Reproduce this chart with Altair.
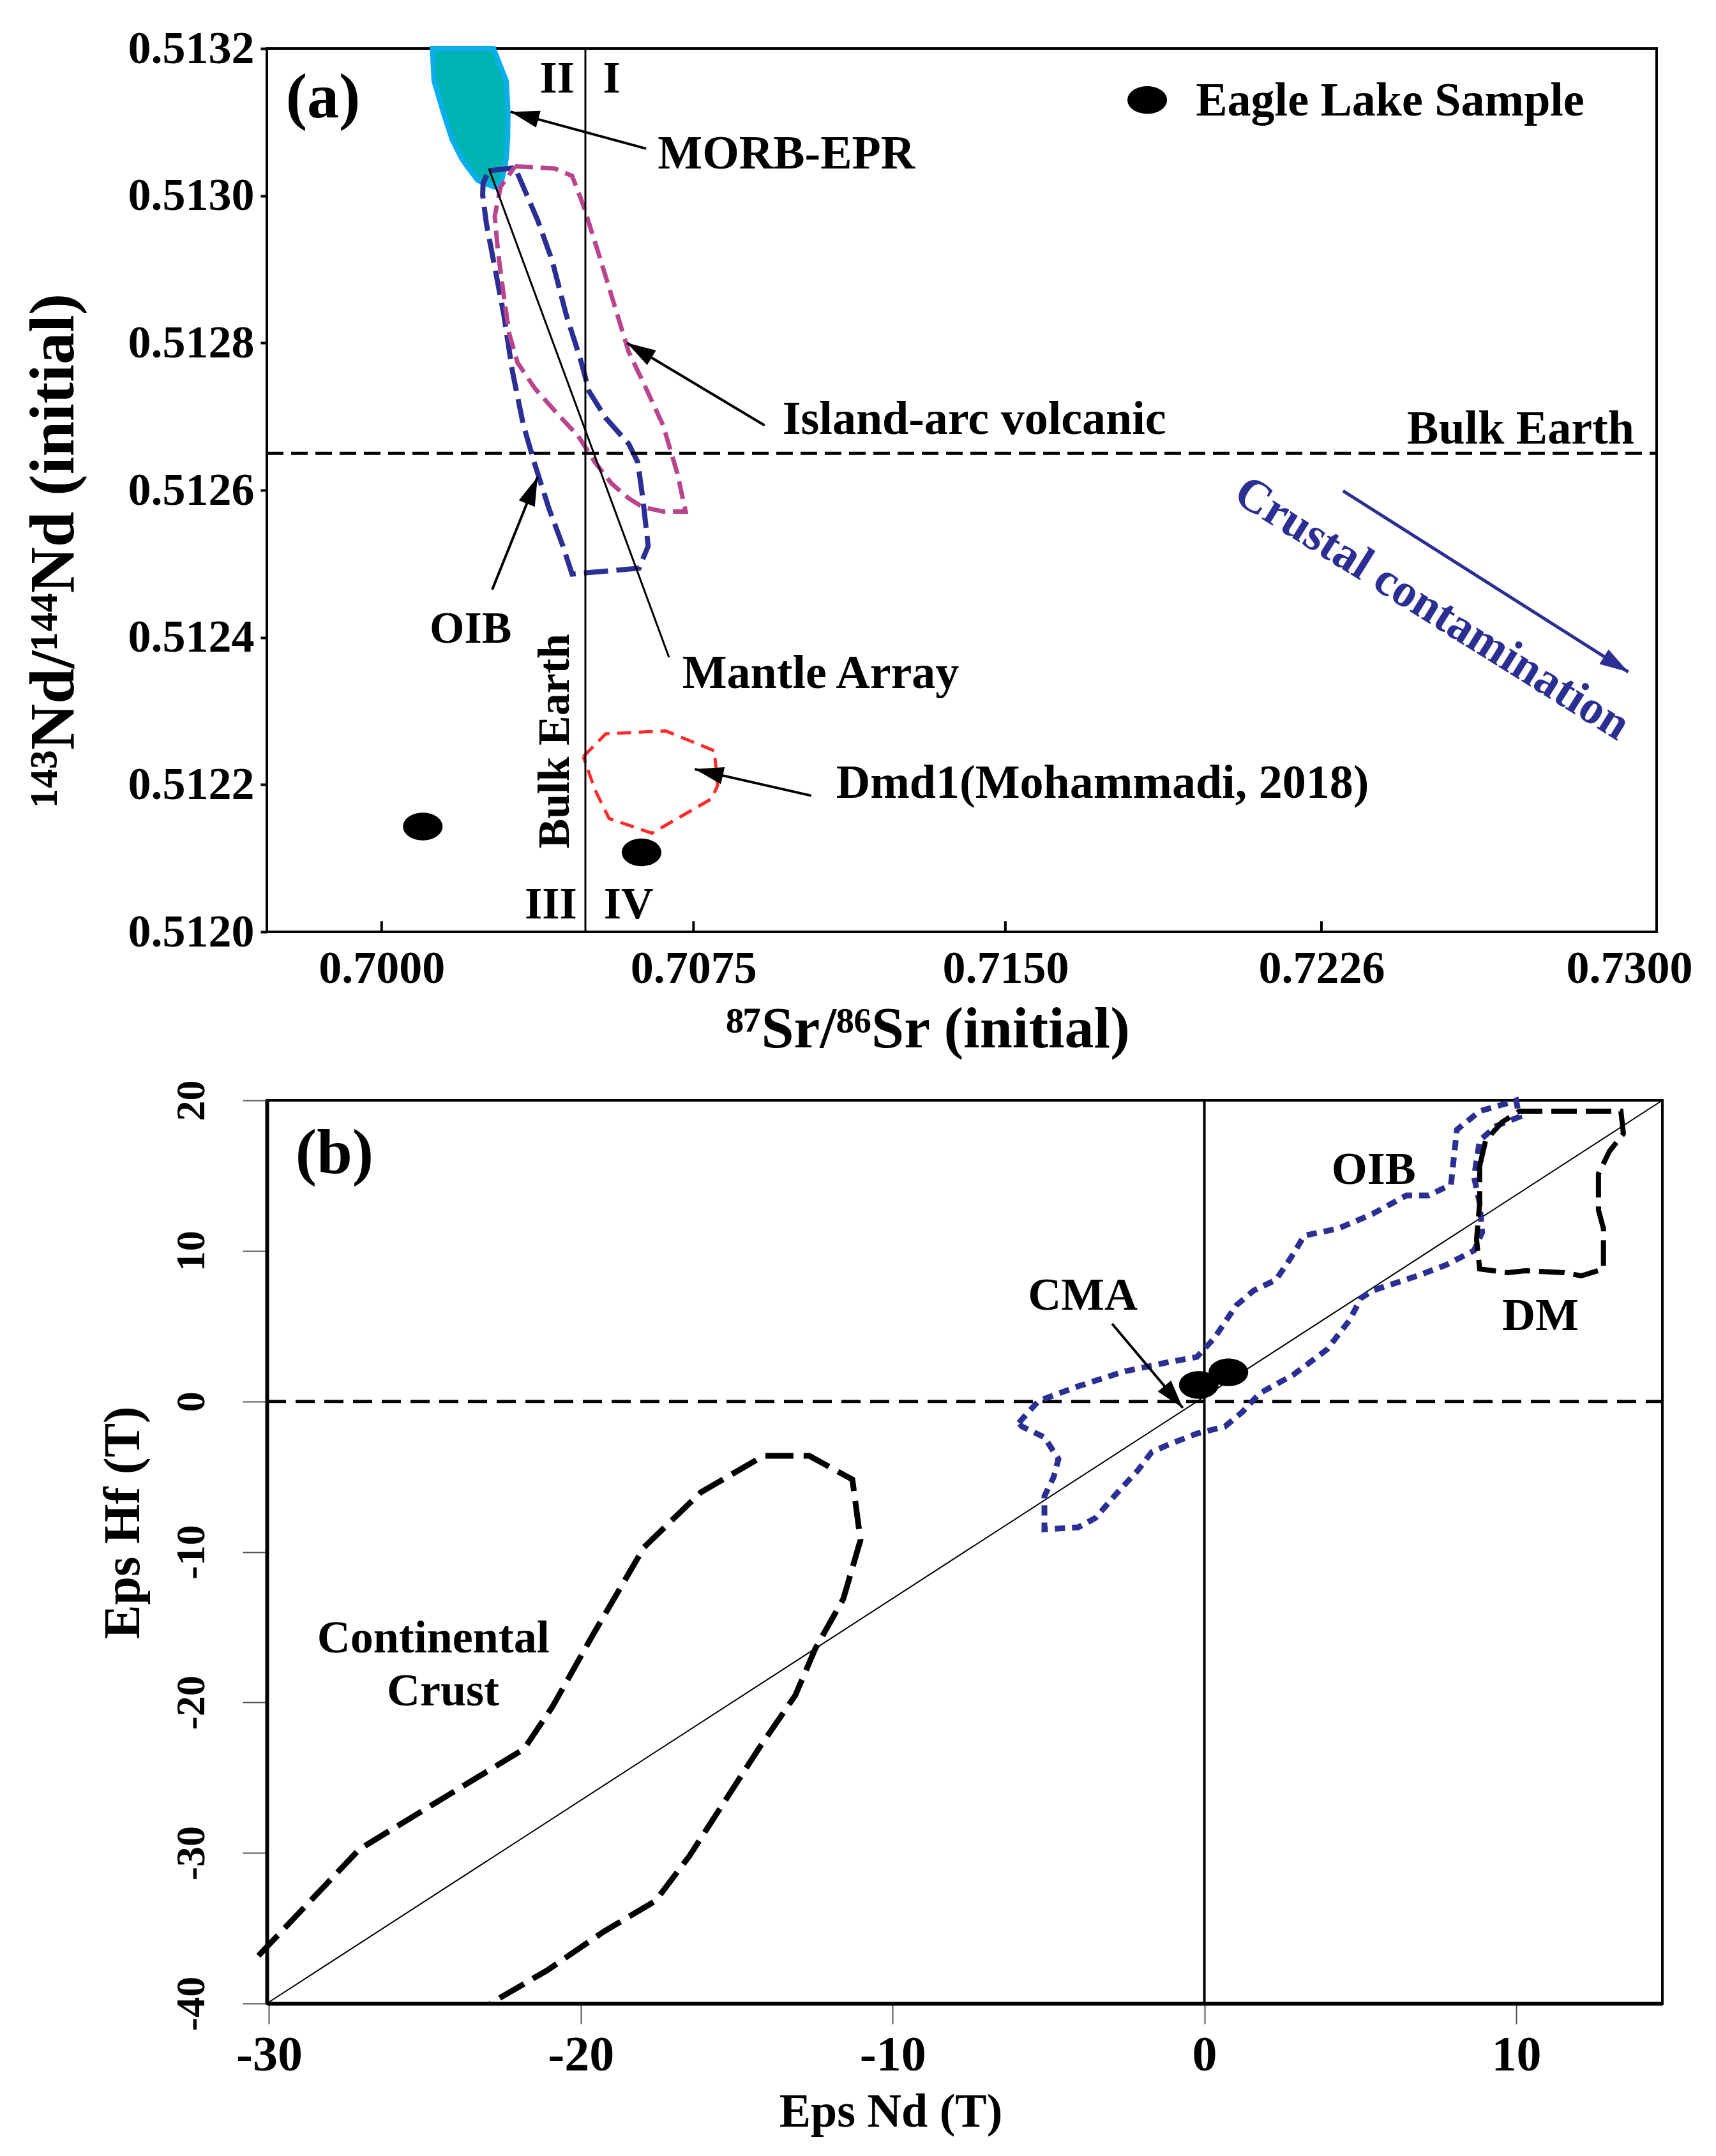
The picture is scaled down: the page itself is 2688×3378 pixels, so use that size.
import altair as alt
import pandas as pd

FONT = "Liberation Serif"
NAVY = "#2B2E92"
MAGENTA = "#B9458E"
RED = "#FF2B2B"
TEAL = "#00B3B3"
CYAN = "#0AAEEA"

# ---------------- panel (a) data ----------------
XA_DOMAIN = [0.69724, 0.73066]
YA_DOMAIN = [0.5120, 0.5132]
XA_TICKS = [0.7000, 0.7075, 0.7150, 0.7226, 0.7300]
XA_INNER_TICKS = [0.7000, 0.7075, 0.7150, 0.7226]
YA_TICKS = [0.5120, 0.5122, 0.5124, 0.5126, 0.5128, 0.5130, 0.5132]

MORB_Y = [0.51320, 0.513156, 0.513112, 0.513077, 0.513052, 0.513041, 0.513021, 0.513012]
MORB_XL = [0.70122, 0.70126, 0.70149, 0.70169, 0.70191, 0.70204, 0.70231, 0.70269]
MORB_XR = [0.70269, 0.70300, 0.70304, 0.70303, 0.70300, 0.70297, 0.70289, 0.70275]

OIB_A_X = [0.70258, 0.70321, 0.70375, 0.70410, 0.70444, 0.70478, 0.70499, 0.70539,
           0.70594, 0.70616, 0.70628, 0.70641, 0.70619, 0.70458, 0.70436, 0.70403,
           0.70369, 0.70341, 0.70314, 0.70294, 0.70269, 0.70252, 0.70243, 0.70244]
OIB_A_Y = [0.513034, 0.513038, 0.512967, 0.512912, 0.512838, 0.512778, 0.512734, 0.512698,
           0.512663, 0.512638, 0.512589, 0.512524, 0.512494, 0.512486, 0.512524, 0.512574,
           0.512634, 0.512688, 0.512763, 0.512838, 0.512912, 0.512962, 0.513001, 0.513017]

ARC_X = [0.70321, 0.70416, 0.70458, 0.70485, 0.70527, 0.70567, 0.70594, 0.70636, 0.70677,
         0.70711, 0.70731, 0.70677, 0.70628, 0.70594, 0.70553, 0.70513, 0.70472, 0.70416,
         0.70369, 0.70327, 0.70307, 0.70294, 0.70280, 0.70272, 0.70286]
ARC_Y = [0.513040, 0.513037, 0.513027, 0.512987, 0.512912, 0.512838, 0.512788, 0.512738,
         0.512688, 0.512623, 0.512571, 0.512571, 0.512577, 0.512589, 0.512609, 0.512638,
         0.512674, 0.512708, 0.512738, 0.512773, 0.512812, 0.512863, 0.512923, 0.512972,
         0.513012]

DMD_X = [0.70485, 0.70539, 0.70683, 0.70800, 0.70808, 0.70794, 0.70650, 0.70547, 0.70513]
DMD_Y = [0.512238, 0.512269, 0.512273, 0.512246, 0.512199, 0.512181, 0.512134, 0.512154, 0.512193]

SAMPLE_A_X = [0.70099, 0.70625]
SAMPLE_A_Y = [0.512143, 0.512108]
LEGEND_DOT_X = [0.71841]
LEGEND_DOT_Y = [0.513130]

BULK_SR = 0.7049
BULK_ND = 0.51265

MANTLE_X = [0.70258, 0.70691]
MANTLE_Y = [0.513037, 0.512373]

ARROW_A_X1 = [0.70636, 0.70921, 0.70266, 0.71033]
ARROW_A_Y1 = [0.513064, 0.512688, 0.512465, 0.512185]
ARROW_A_X2 = [0.70310, 0.70590, 0.70375, 0.70753]
ARROW_A_Y2 = [0.513114, 0.512800, 0.512618, 0.512221]
ARROW_A_ANGLE = [285, 301, 22, 283]

CRUSTAL_X = [0.72312, 0.72998]
CRUSTAL_Y = [0.512599, 0.512353]
CRUSTAL_ANGLE = [122]

LABELS_A_LEFT = ["MORB-EPR", "Island-arc volcanic", "Mantle Array",
                 "Dmd1(Mohammadi, 2018)", "Eagle Lake Sample"]
LABELS_A_LEFT_X = [0.70664, 0.70964, 0.70723, 0.71093, 0.71958]
LABELS_A_LEFT_Y = [0.513056, 0.512695, 0.512350, 0.512201, 0.513128]

LABELS_A_CENTER = ["II", "I", "III", "IV", "OIB"]
LABELS_A_CENTER_X = [0.70422, 0.70553, 0.70407, 0.70594, 0.70214]
LABELS_A_CENTER_Y = [0.513158, 0.513158, 0.512036, 0.512036, 0.512411]

PANEL_A_TAG = ["(a)"]
PANEL_A_TAG_X = [0.69859]
PANEL_A_TAG_Y = [0.513132]

BULK_H_LABEL = ["Bulk Earth"]
BULK_H_LABEL_X = [0.73012]
BULK_H_LABEL_Y = [0.512682]

BULK_V_LABEL = ["Bulk Earth"]
BULK_V_LABEL_X = [0.70418]
BULK_V_LABEL_Y = [0.512259]

CRUSTAL_LABEL = ["Crustal contamination"]
CRUSTAL_LABEL_X = [0.72526]
CRUSTAL_LABEL_Y = [0.512439]

# ---------------- panel (b) data ----------------
XB_DOMAIN = [-30.07, 14.69]
YB_DOMAIN = [-40, 20]
XB_TICKS = [-30, -20, -10, 0, 10]
YB_TICKS = [-40, -30, -20, -10, 0, 10, 20]

CRUST_X = [-30.34, -27.10, -21.82, -20.90, -19.61, -17.97, -16.15, -14.14, -12.67, -11.29,
           -11.03, -11.58, -12.48, -13.12, -14.30, -15.78, -16.52, -17.60, -19.26, -21.08, -22.90]
CRUST_Y = [-36.83, -29.75, -23.09, -20.25, -15.50, -9.69, -6.04, -3.62, -3.62, -5.19,
           -9.22, -13.12, -16.43, -19.53, -23.09, -27.84, -30.21, -33.18, -35.22, -37.80, -40.0]

OIB_B_X = [-5.95, -5.32, -4.05, -2.59, -1.14, -0.24, 0.31, 1.03, 1.58, 2.30, 2.85, 3.20, 4.29,
           5.39, 6.48, 7.19, 7.91, 8.01, 8.10, 8.83, 9.82, 10.00, 10.10, 9.36, 8.83, 8.65, 8.83,
           8.91, 8.65, 7.75, 6.83, 5.39, 5.02, 4.66, 3.94, 2.85, 1.77, 1.22, 0.66, -0.24, -1.14,
           -1.69, -2.14, -2.78, -3.49, -4.05, -5.13, -5.13, -4.84, -4.68, -5.13, -5.85]
OIB_B_Y = [-1.42, 0.03, 1.00, 1.98, 2.61, 2.95, 4.18, 6.39, 7.36, 8.08, 9.78, 11.01, 11.48,
           12.45, 13.68, 13.68, 14.40, 16.35, 18.05, 19.28, 19.87, 20.0, 18.90, 18.30, 17.33,
           14.91, 13.17, 11.22, 10.03, 9.06, 8.34, 7.36, 6.85, 5.41, 3.46, 1.76, 0.53, -0.70,
           -1.67, -2.14, -2.86, -3.37, -4.60, -6.04, -7.74, -8.37, -8.50, -6.29, -5.06, -3.83,
           -2.39, -1.67]

DM_X = [8.83, 9.02, 9.55, 10.10, 13.36, 13.44, 12.99, 12.64, 12.64, 12.80, 12.80, 12.09,
        11.54, 10.29, 9.73, 8.83, 8.73, 8.83]
DM_Y = [15.63, 17.33, 18.56, 19.28, 19.28, 17.79, 16.61, 15.12, 12.71, 11.48, 8.80, 8.34,
        8.55, 8.68, 8.55, 8.80, 10.75, 13.17]

SAMPLE_B_X = [-0.18, 0.77]
SAMPLE_B_Y = [1.09, 1.93]

DIAG_X = [-30.07, 14.69]
DIAG_Y = [-40, 20]

CMA_ARROW_X = [-2.96, -0.69]
CMA_ARROW_Y = [5.16, -0.44]
CMA_ARROW_ANGLE = [140]

LABELS_B = ["OIB", "CMA", "DM", "Continental", "Crust"]
LABELS_B_X = [5.43, -3.90, 10.78, -24.73, -24.42]
LABELS_B_Y = [15.38, 7.02, 5.67, -15.75, -19.27]

PANEL_B_TAG = ["(b)"]
PANEL_B_TAG_X = [-27.90]
PANEL_B_TAG_Y = [16.44]

# ---------------- helpers ----------------
ELLIPSE = ("M-1,0C-1,-0.387,-0.552,-0.7,0,-0.7C0.552,-0.7,1,-0.387,1,0"
           "C1,0.387,0.552,0.7,0,0.7C-0.552,0.7,-1,0.387,-1,0Z")
ARROW = "M0,0L-0.6,2L0.6,2Z"


def poly_df(xs, ys, close=True):
    px, py = list(xs), list(ys)
    if close:
        px.append(px[0])
        py.append(py[0])
    return pd.DataFrame({"x": px, "y": py, "o": list(range(len(px)))})


AX_XA = alt.Axis(values=XA_TICKS, format=".4f", title="⁸⁷Sr/⁸⁶Sr (initial)", grid=False,
                 domain=False, ticks=False, labelFont=FONT, labelFontWeight="bold",
                 labelFontSize=72, labelColor="black", labelPadding=22, labelFlush=False,
                 labelOverlap=False, labelLimit=0, titleFont=FONT, titleFontWeight="bold",
                 titleFontSize=92, titleColor="black", titlePadding=14, titleX=1035,
                 titleAlign="center")
AX_YA = alt.Axis(values=YA_TICKS, format=".4f", title="¹⁴³Nd/¹⁴⁴Nd (initial)", grid=False,
                 domain=False, tickSize=10, tickWidth=4, tickColor="black", labelFont=FONT,
                 labelFontWeight="bold", labelFontSize=72, labelColor="black", labelPadding=10,
                 labelOverlap=False, labelLimit=0, titleFont=FONT, titleFontWeight="bold",
                 titleFontSize=100, titleColor="black", titleAngle=270, titleX=-334,
                 titleY=786, titleAlign="center", titleBaseline="middle")
AX_XB = alt.Axis(values=XB_TICKS, labelExpr="'' + datum.value", title="Eps Nd (T)", grid=False,
                 domain=True, domainColor="black", domainWidth=6, tickSize=32, tickWidth=2,
                 tickColor="#555555", labelFont=FONT, labelFontWeight="bold", labelFontSize=78,
                 labelColor="black", labelPadding=10, labelFlush=False, labelOverlap=False,
                 labelLimit=0, titleFont=FONT, titleFontWeight="bold", titleFontSize=74,
                 titleColor="black", titlePadding=14, titleX=977, titleAlign="center")
AX_YB = alt.Axis(values=YB_TICKS, labelExpr="'' + datum.value", title="Eps Hf (T)", grid=False,
                 domain=True, domainColor="black", domainWidth=6, tickSize=38, tickWidth=2,
                 tickColor="#555555", labelFont=FONT, labelFontWeight="bold", labelFontSize=64,
                 labelColor="black", labelAngle=270, labelPadding=48, labelOverlap=False,
                 labelLimit=0, titleFont=FONT, titleFontWeight="bold", titleFontSize=80,
                 titleColor="black", titleAngle=270, titleX=-225, titleY=661,
                 titleAlign="center", titleBaseline="middle")

SXA = alt.Scale(domain=XA_DOMAIN, nice=False, zero=False)
SYA = alt.Scale(domain=YA_DOMAIN, nice=False, zero=False)
SXB = alt.Scale(domain=XB_DOMAIN, nice=False, zero=False)
SYB = alt.Scale(domain=YB_DOMAIN, nice=False, zero=False)


def xa(f="x"):
    return alt.X(f"{f}:Q", scale=SXA, axis=AX_XA)


def ya(f="y"):
    return alt.Y(f"{f}:Q", scale=SYA, axis=AX_YA)


def xb(f="x"):
    return alt.X(f"{f}:Q", scale=SXB, axis=AX_XB)


def yb(f="y"):
    return alt.Y(f"{f}:Q", scale=SYB, axis=AX_YB)


def text_layer(labels, xs, ys, X, Y, size, align="center", angle=0, color="black"):
    df = pd.DataFrame({"x": xs, "y": ys, "label": labels})
    kw = dict(font=FONT, fontWeight="bold", fontSize=size, align=align, baseline="middle",
              color=color)
    if angle:
        kw["angle"] = angle
    return alt.Chart(df).mark_text(**kw).encode(x=X(), y=Y(), text="label:N")


# ---------------- panel (a) layers ----------------
morb = alt.Chart(pd.DataFrame({"y": MORB_Y, "xl": MORB_XL, "xr": MORB_XR})).mark_area(
    orient="horizontal", color=TEAL, stroke=CYAN, strokeWidth=8, opacity=1
).encode(y=ya("y"), x=xa("xl"), x2="xr:Q")

oib_a = alt.Chart(poly_df(OIB_A_X, OIB_A_Y)).mark_line(
    color=NAVY, strokeWidth=8, strokeDash=[38, 13]).encode(x=xa(), y=ya(), order="o:Q")
arc = alt.Chart(poly_df(ARC_X, ARC_Y)).mark_line(
    color=MAGENTA, strokeWidth=7, strokeDash=[28, 12]).encode(x=xa(), y=ya(), order="o:Q")
dmd = alt.Chart(poly_df(DMD_X, DMD_Y)).mark_line(
    color=RED, strokeWidth=5, strokeDash=[22, 12]).encode(x=xa(), y=ya(), order="o:Q")

mantle = alt.Chart(pd.DataFrame({"x": [MANTLE_X[0]], "y": [MANTLE_Y[0]],
                                 "x2": [MANTLE_X[1]], "y2": [MANTLE_Y[1]]})).mark_rule(
    color="black", strokeWidth=3).encode(x=xa(), y=ya(), x2="x2:Q", y2="y2:Q")

bulk_v = alt.Chart(pd.DataFrame({"x": [BULK_SR], "y": [YA_DOMAIN[0]], "y2": [YA_DOMAIN[1]]})
                   ).mark_rule(color="black", strokeWidth=3).encode(x=xa(), y=ya(), y2="y2:Q")
bulk_h = alt.Chart(pd.DataFrame({"y": [BULK_ND], "x": [XA_DOMAIN[0]], "x2": [XA_DOMAIN[1]]})
                   ).mark_rule(color="black", strokeWidth=5, strokeDash=[26, 12]).encode(
    x=xa(), x2="x2:Q", y=ya())

inner_ticks = alt.Chart(pd.DataFrame({"x": XA_INNER_TICKS, "y": [YA_DOMAIN[0]] * 4,
                                      "y2": [YA_DOMAIN[0] + 0.0000145] * 4})).mark_rule(
    color="black", strokeWidth=4).encode(x=xa(), y=ya(), y2="y2:Q")

arrows_a = alt.Chart(pd.DataFrame({"x": ARROW_A_X1, "y": ARROW_A_Y1,
                                   "x2": ARROW_A_X2, "y2": ARROW_A_Y2})).mark_rule(
    color="black", strokeWidth=4).encode(x=xa(), y=ya(), x2="x2:Q", y2="y2:Q")
heads_a = alt.Chart(pd.DataFrame({"x": ARROW_A_X2, "y": ARROW_A_Y2, "a": ARROW_A_ANGLE})
                    ).mark_point(shape=ARROW, size=2025, filled=True, color="black",
                                 opacity=1, strokeWidth=0).encode(
    x=xa(), y=ya(), angle=alt.Angle("a:Q", scale=None))

crustal = alt.Chart(pd.DataFrame({"x": [CRUSTAL_X[0]], "y": [CRUSTAL_Y[0]],
                                  "x2": [CRUSTAL_X[1]], "y2": [CRUSTAL_Y[1]]})).mark_rule(
    color=NAVY, strokeWidth=5).encode(x=xa(), y=ya(), x2="x2:Q", y2="y2:Q")
crustal_head = alt.Chart(pd.DataFrame({"x": [CRUSTAL_X[1]], "y": [CRUSTAL_Y[1]],
                                       "a": CRUSTAL_ANGLE})).mark_point(
    shape=ARROW, size=2025, filled=True, color=NAVY, opacity=1, strokeWidth=0).encode(
    x=xa(), y=ya(), angle=alt.Angle("a:Q", scale=None))

samples_a = alt.Chart(pd.DataFrame({"x": SAMPLE_A_X + LEGEND_DOT_X,
                                    "y": SAMPLE_A_Y + LEGEND_DOT_Y})).mark_point(
    shape=ELLIPSE, size=3844, filled=True, color="black", opacity=1, strokeWidth=0).encode(
    x=xa(), y=ya())

t_left_a = text_layer(LABELS_A_LEFT, LABELS_A_LEFT_X, LABELS_A_LEFT_Y, xa, ya, 74, "left")
t_center_a = text_layer(LABELS_A_CENTER, LABELS_A_CENTER_X, LABELS_A_CENTER_Y, xa, ya, 70)
t_tag_a = text_layer(PANEL_A_TAG, PANEL_A_TAG_X, PANEL_A_TAG_Y, xa, ya, 100)
t_bulk_h = text_layer(BULK_H_LABEL, BULK_H_LABEL_X, BULK_H_LABEL_Y, xa, ya, 74, "right")
t_bulk_v = text_layer(BULK_V_LABEL, BULK_V_LABEL_X, BULK_V_LABEL_Y, xa, ya, 70, "center", 270)
t_crustal = text_layer(CRUSTAL_LABEL, CRUSTAL_LABEL_X, CRUSTAL_LABEL_Y, xa, ya, 74, "center",
                       32, NAVY)

panel_a = alt.layer(
    morb, oib_a, arc, dmd, mantle, bulk_v, bulk_h, inner_ticks, arrows_a, heads_a,
    crustal, crustal_head, samples_a, t_left_a, t_center_a, t_tag_a, t_bulk_h, t_bulk_v,
    t_crustal
).properties(width=2177, height=1384)

# ---------------- panel (b) layers ----------------
crust = alt.Chart(poly_df(CRUST_X, CRUST_Y, close=False)).mark_line(
    color="black", strokeWidth=9, strokeDash=[44, 16]).encode(x=xb(), y=yb(), order="o:Q")
oib_b = alt.Chart(poly_df(OIB_B_X, OIB_B_Y)).mark_line(
    color=NAVY, strokeWidth=9, strokeDash=[16, 11]).encode(x=xb(), y=yb(), order="o:Q")
dm = alt.Chart(poly_df(DM_X, DM_Y)).mark_line(
    color="black", strokeWidth=8, strokeDash=[40, 14]).encode(x=xb(), y=yb(), order="o:Q")

diag = alt.Chart(pd.DataFrame({"x": [DIAG_X[0]], "y": [DIAG_Y[0]],
                               "x2": [DIAG_X[1]], "y2": [DIAG_Y[1]]})).mark_rule(
    color="black", strokeWidth=2).encode(x=xb(), y=yb(), x2="x2:Q", y2="y2:Q")
zero_h = alt.Chart(pd.DataFrame({"y": [0], "x": [XB_DOMAIN[0]], "x2": [XB_DOMAIN[1]]})
                   ).mark_rule(color="black", strokeWidth=5, strokeDash=[30, 15]).encode(
    x=xb(), x2="x2:Q", y=yb())
zero_v = alt.Chart(pd.DataFrame({"x": [0], "y": [YB_DOMAIN[0]], "y2": [YB_DOMAIN[1]]})
                   ).mark_rule(color="black", strokeWidth=4).encode(x=xb(), y=yb(), y2="y2:Q")

cma_arrow = alt.Chart(pd.DataFrame({"x": [CMA_ARROW_X[0]], "y": [CMA_ARROW_Y[0]],
                                    "x2": [CMA_ARROW_X[1]], "y2": [CMA_ARROW_Y[1]]})).mark_rule(
    color="black", strokeWidth=4).encode(x=xb(), y=yb(), x2="x2:Q", y2="y2:Q")
cma_head = alt.Chart(pd.DataFrame({"x": [CMA_ARROW_X[1]], "y": [CMA_ARROW_Y[1]],
                                   "a": CMA_ARROW_ANGLE})).mark_point(
    shape=ARROW, size=2025, filled=True, color="black", opacity=1, strokeWidth=0).encode(
    x=xb(), y=yb(), angle=alt.Angle("a:Q", scale=None))

samples_b = alt.Chart(pd.DataFrame({"x": SAMPLE_B_X, "y": SAMPLE_B_Y})).mark_point(
    shape=ELLIPSE, size=3844, filled=True, color="black", opacity=1, strokeWidth=0).encode(
    x=xb(), y=yb())

t_b = text_layer(LABELS_B, LABELS_B_X, LABELS_B_Y, xb, yb, 72)
t_tag_b = text_layer(PANEL_B_TAG, PANEL_B_TAG_X, PANEL_B_TAG_Y, xb, yb, 100)

panel_b = alt.layer(
    diag, zero_h, zero_v, crust, oib_b, dm, cma_arrow, cma_head, samples_b, t_b, t_tag_b
).properties(width=2186, height=1415)

chart = alt.vconcat(panel_a, panel_b, spacing=30).properties(
    padding={"left": 24, "top": 30, "right": 10, "bottom": 10},
    background="white"
).configure_view(stroke="black", strokeWidth=4)

chart.save("out.html", embed_options={"renderer": "svg", "actions": False})
